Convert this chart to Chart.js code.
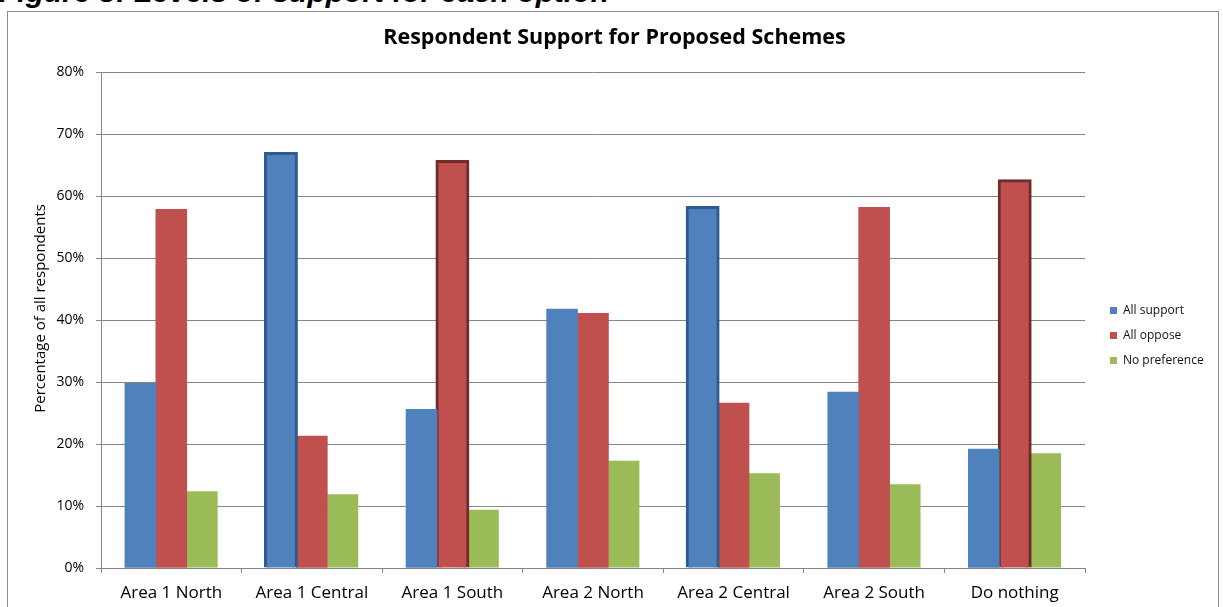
<!DOCTYPE html>
<html>
<head>
<meta charset="utf-8">
<script src="https://cdn.jsdelivr.net/npm/chart.js@4.4.1/dist/chart.umd.min.js"></script>
<style>
  html, body { margin:0; padding:0; background:#fff; overflow:hidden; }
  #wrap { position:relative; width:1223px; height:607px; }
  #frame { position:absolute; left:7px; top:11px; width:1212px; height:620px; border:1px solid #8c8c8c; box-sizing:border-box; pointer-events:none; }
  #caption { position:absolute; left:-1px; top:-25px; font-family:"Liberation Sans", Arial, sans-serif; font-weight:bold; font-style:italic; font-size:30px; white-space:nowrap; color:#000; }
  canvas { position:absolute; left:0; top:0; }
</style>
</head>
<body>
<div id="wrap">
  <div id="caption">Figure 8: Levels of support for each option</div>
  <canvas id="c" width="1223" height="607"></canvas>
  <div id="frame"></div>
</div>
<script>
const categories = ["Area 1 North", "Area 1 Central", "Area 1 South", "Area 2 North", "Area 2 Central", "Area 2 South", "Do nothing"];
const allSupport = [29.8, 66.9, 25.6, 41.8, 58.2, 28.4, 19.2];
const allOppose  = [57.9, 21.3, 65.6, 41.1, 26.6, 58.2, 62.5];
const noPreference = [12.4, 11.9, 9.4, 17.3, 15.3, 13.5, 18.5];
const highlightSupport = [false, true, false, false, true, false, false];
const highlightOppose  = [false, false, true, false, false, false, true];
const yTicks = [0, 10, 20, 30, 40, 50, 60, 70, 80];

const FONT = "'Open Sans', 'Noto Sans', sans-serif";

const legendShift = {
  id: 'legendShift',
  afterLayout(chart) {
    const l = chart.legend;
    if (!l) return;
    const dx = 12, dy = 32;
    l.left += dx; l.right += dx; l.top += dy; l.bottom += dy;
  }
};

const chart = new Chart(document.getElementById('c'), {
  type: 'bar',
  data: {
    labels: categories,
    datasets: [
      { label: 'All support', data: allSupport, backgroundColor: '#4F81BD',
        borderColor: highlightSupport.map(h => h ? '#2E5A8E' : '#4F81BD'),
        borderWidth: highlightSupport.map(h => h ? 3 : 0),
        inflateAmount: highlightSupport.map(h => h ? 1.5 : 0.33) },
      { label: 'All oppose', data: allOppose, backgroundColor: '#C0504D',
        borderColor: highlightOppose.map(h => h ? '#6F2C2A' : '#C0504D'),
        borderWidth: highlightOppose.map(h => h ? 3 : 0),
        inflateAmount: highlightOppose.map(h => h ? 1.5 : 0.33) },
      { label: 'No preference', data: noPreference, backgroundColor: '#9BBB59', borderWidth: 0 }
    ]
  },
  plugins: [legendShift],
  options: {
    responsive: false,
    animation: false,
    layout: { padding: { left: 28, right: 22, top: 0, bottom: 0 } },
    categoryPercentage: 0.66,
    barPercentage: 1.0,
    plugins: {
      title: { display: true, text: 'Respondent Support for Proposed Schemes', color: '#000',
        font: { family: FONT, size: 21.5, weight: 'bold' }, padding: { top: 25, bottom: 21.5 } },
      legend: { position: 'right',
        labels: { boxWidth: 7, boxHeight: 7, padding: 13, color: '#111', font: { family: FONT, size: 12 } } },
      tooltip: { enabled: false }
    },
    scales: {
      x: {
        grid: { display: true, drawOnChartArea: false, drawTicks: true, tickLength: 5, color: '#868686', offset: true },
        border: { color: '#868686', width: 1 },
        ticks: { color: '#000', font: { family: FONT, size: 17 }, padding: 10, maxRotation: 0 },
        afterFit: (s) => { s.height = 39; }
      },
      y: {
        min: 0, max: 80,
        afterBuildTicks: (s) => { s.ticks = yTicks.map(v => ({ value: v })); },
        grid: { color: '#868686', lineWidth: 1, tickLength: 5 },
        border: { color: '#868686', width: 1 },
        ticks: { color: '#000', font: { family: FONT, size: 14 }, padding: 12, callback: v => v + '%' },
        title: { display: true, text: '      Percentage of all respondents', color: '#000', font: { family: FONT, size: 15 }, padding: { top: 4, bottom: 0 } },
        afterFit: (s) => { s.width = 73; }
      }
    }
  }
});

// Fix the legend column width so the plot area ends where the reference's does.
const lg = chart.legend;
const origFit = lg.fit;
lg.fit = function () {
  origFit.call(this);
  if (!this.isHorizontal()) this.width = 1223 - 22 - 1085;
};
chart.update();
</script>
</body>
</html>
